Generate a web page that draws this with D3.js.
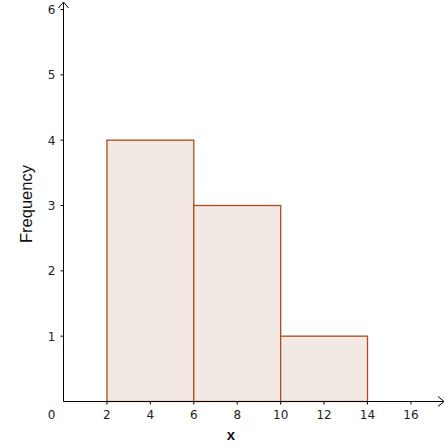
<!DOCTYPE html>
<html><head><meta charset="utf-8">
<script src="https://cdn.jsdelivr.net/npm/d3@7"></script>
<style>html,body{margin:0;padding:0;background:#fff;}</style>
</head><body>
<script>
const binStarts = [2, 6, 10];
const binEnds = [6, 10, 14];
const frequencies = [4, 3, 1];
const xTicks = [2, 4, 6, 8, 10, 12, 14, 16];
const yTicks = [1, 2, 3, 4, 5, 6];

const W = 445, H = 448;
const svg = d3.select("body").append("svg").attr("width", W).attr("height", H);
const x = d3.scaleLinear().domain([0, 14]).range([63.5, 367.5]);
const y = d3.scaleLinear().domain([0, 6]).range([401.5, 9.5]);

// bars
svg.append("g").selectAll("rect").data(frequencies).join("rect")
  .attr("x", (d, i) => x(binStarts[i]))
  .attr("y", d => y(d))
  .attr("width", (d, i) => x(binEnds[i]) - x(binStarts[i]))
  .attr("height", d => y(0) - y(d))
  .attr("fill", "#f3e9e4")
  .attr("stroke", "#b24b1c")
  .attr("stroke-width", 1.3);

const tickFont = "DejaVu Sans, sans-serif";
const axisColor = "#000";
// x axis line
svg.append("line").attr("x1", x(0)).attr("x2", 444).attr("y1", y(0)).attr("y2", y(0))
  .attr("stroke", axisColor).attr("stroke-width", 1);
svg.append("path").attr("d", `M${438},${y(0)-5} L${444},${y(0)} L${438},${y(0)+5}`)
  .attr("fill", "none").attr("stroke", axisColor).attr("stroke-width", 1);
// y axis line
svg.append("line").attr("x1", x(0)).attr("x2", x(0)).attr("y1", y(0)).attr("y2", 2)
  .attr("stroke", axisColor).attr("stroke-width", 1);
svg.append("path").attr("d", `M${x(0)-5},${8} L${x(0)},${2} L${x(0)+5},${8}`)
  .attr("fill", "none").attr("stroke", axisColor).attr("stroke-width", 1);

// x ticks
const xg = svg.append("g");
xg.selectAll("line").data(xTicks).join("line")
  .attr("x1", d => x(d)).attr("x2", d => x(d))
  .attr("y1", y(0)).attr("y2", y(0) + 3)
  .attr("stroke", axisColor);
xg.selectAll("text").data(xTicks).join("text")
  .attr("x", d => x(d)).attr("y", y(0) + 17)
  .attr("text-anchor", "middle")
  .attr("font-family", tickFont).attr("font-size", 12).attr("fill", "#222")
  .text(d => d);
svg.append("text").attr("x", 51.5).attr("y", y(0) + 17)
  .attr("text-anchor", "middle").attr("font-family", tickFont).attr("font-size", 12).attr("fill", "#222")
  .text("0");

// y ticks
const yg = svg.append("g");
yg.selectAll("line").data(yTicks).join("line")
  .attr("x1", x(0) - 3).attr("x2", x(0))
  .attr("y1", d => y(d)).attr("y2", d => y(d))
  .attr("stroke", axisColor);
yg.selectAll("text").data(yTicks).join("text")
  .attr("x", 55.5).attr("y", d => y(d) + 4.5)
  .attr("text-anchor", "end")
  .attr("font-family", tickFont).attr("font-size", 12).attr("fill", "#222")
  .text(d => d);

// axis labels
svg.append("text").attr("x", 231).attr("y", 440)
  .attr("text-anchor", "middle").attr("font-family", "Liberation Sans, Arial, sans-serif")
  .attr("font-size", 15).attr("font-weight", "bold").attr("fill", "#111").text("x");
svg.append("text").attr("transform", "translate(31.5,204) rotate(-90)")
  .attr("text-anchor", "middle").attr("font-family", "Liberation Sans, Arial, sans-serif")
  .attr("font-size", 16.5).attr("fill", "#111").text("Frequency");
</script>
</body></html>
